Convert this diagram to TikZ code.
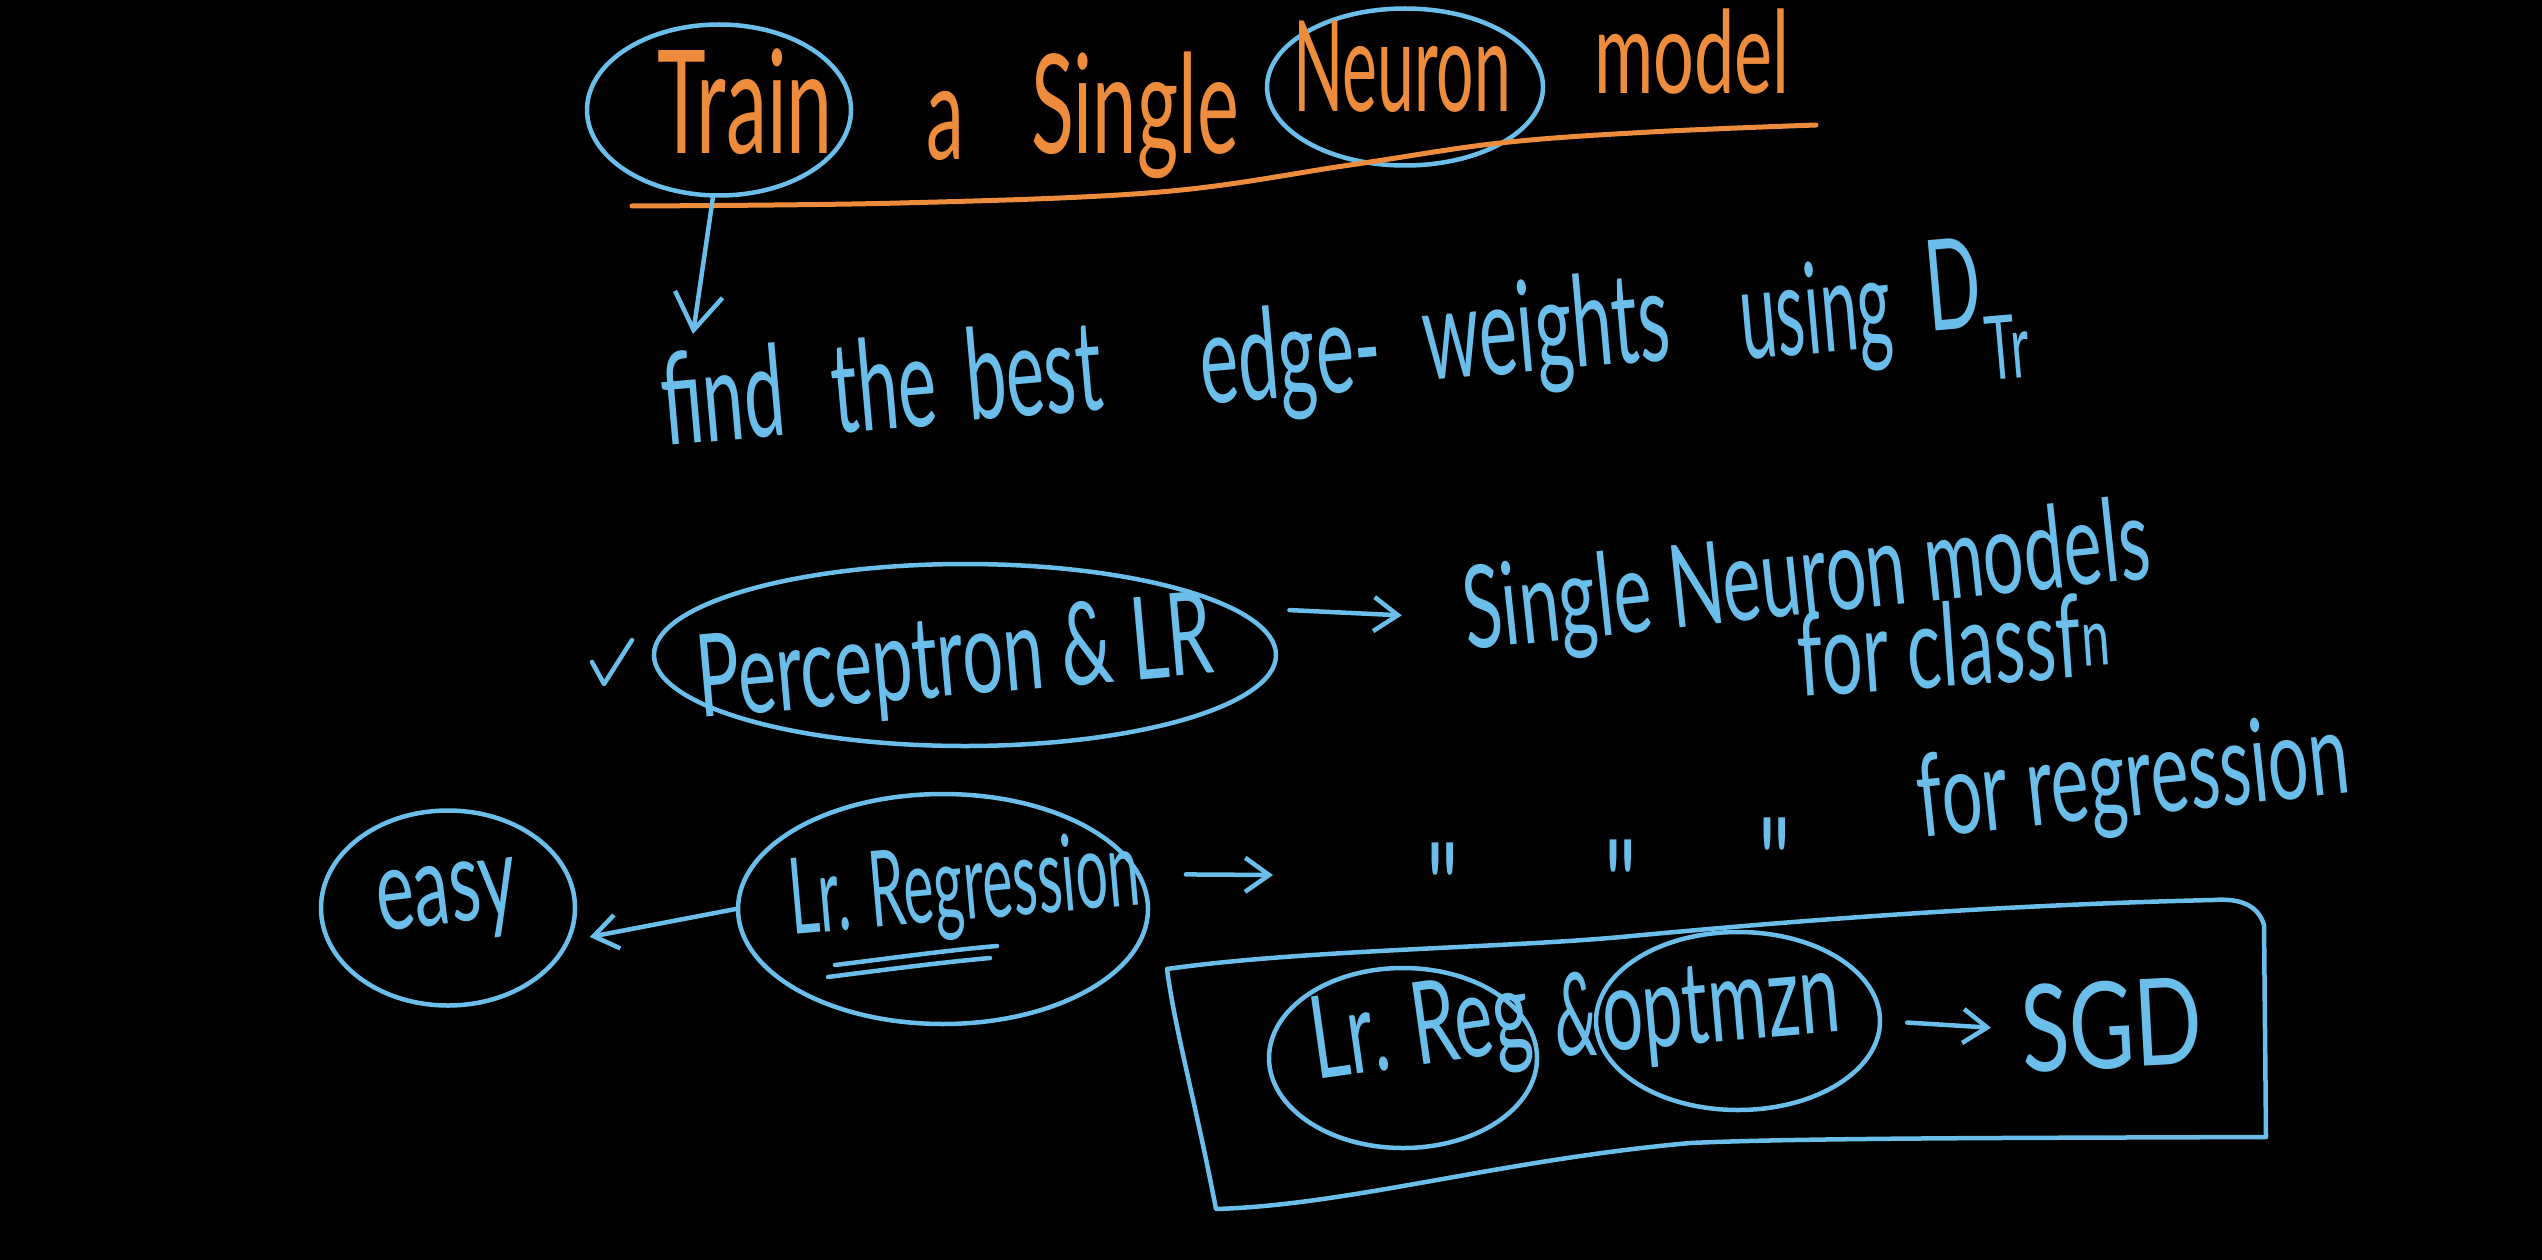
\documentclass[tikz,border=0pt]{standalone}
\usepackage{fontspec}
\setmainfont{Lato}
\newfontfamily\dittofont{Lato}
\usepackage{graphicx}
\usetikzlibrary{arrows.meta,shapes.geometric}
\definecolor{chalkblue}{RGB}{108,190,234}
\definecolor{chalkorange}{RGB}{236,140,60}
\newcommand{\hwys}{1.15}
\newcommand{\hw}[3][0.72]{\scalebox{#1}[\hwys]{\fontsize{#2}{#2}\selectfont #3}}
\tikzset{
  ink/.style={draw=chalkblue, line width=4.5pt, line cap=round, line join=round},
  oink/.style={draw=chalkorange, line width=5pt, line cap=round, line join=round},
  blob/.style={ellipse, draw=chalkblue, line width=4.5pt, inner sep=0pt},
  word/.style={text=chalkblue, inner sep=0pt},
  oword/.style={text=chalkorange, inner sep=0pt},
  arr/.style={ink, -{Straight Barb[length=24pt,width=34pt]}},
  bigarr/.style={ink, -{Straight Barb[length=36pt,width=48pt]}},
}
\begin{document}
\begin{tikzpicture}[x=1pt,y=-1pt]
\fill[black] (0,0) rectangle (2542,1260);
\useasboundingbox (0,0) rectangle (2542,1260);

% ---- title
\node[blob, minimum width=264pt, minimum height=171pt] (trainE) at (719,110) {};
\node[oword, anchor=base] (train) at (745,154) {\hw[0.66]{125}{Train}};
\node[oword, anchor=base] (ta) at (945,160) {\hw[0.66]{115}{a}};
\node[oword, anchor=base] (single) at (1135,154) {\hw[0.66]{120}{Single}};
\node[blob, minimum width=276pt, minimum height=157pt] (neuronE) at (1405,87) {};
\node[oword, anchor=base] (neuron) at (1402,112) {\hw[0.6]{110}{Neuron}};
\node[oword, anchor=base] (model) at (1692,94) {\hw[0.72]{100}{model}};
\draw[oink] plot[smooth, tension=0.6] coordinates {(632,206) (900,203) (1160,192) (1350,165) (1500,143) (1650,132) (1816,125)};

% ---- line 2
\coordinate (findtip) at (693,334);
\draw[bigarr] (trainE.-94) -- (findtip);
\node[word, anchor=base west, rotate=5] (find) at (665,446) {\hw[0.66]{110}{find}};
\node[word, anchor=base west, rotate=5] (the) at (835,434) {\hw[0.66]{110}{the}};
\node[word, anchor=base west, rotate=5] (best) at (969,421) {\hw[0.66]{110}{best}};
\node[word, anchor=base west, rotate=5] (edge) at (1203,405) {\hw[0.66]{110}{edge-}};
\node[word, anchor=base west, rotate=5] (weights) at (1426,381) {\hw[0.66]{110}{weights}};
\node[word, anchor=base west, rotate=5] (using) at (1743,360) {\hw[0.6]{110}{using}};
\node[word, anchor=base west, rotate=5] (dtr) at (1929,332) {\hw[0.66]{110}{D\textsubscript{Tr}}};

% ---- row 3
\draw[ink] (592,662) -- (604,684) -- (632,640);
\node[blob, minimum width=622pt, minimum height=182pt] (percE) at (965,655) {};
\node[word, anchor=base west, rotate=5] (perc) at (700,718) {\hw{100}{Perceptron \& LR}};
\node[word, anchor=base west, rotate=6] (snm) at (1467,650) {\hw{100}{Single Neuron models}};
\draw[arr, shorten <=55pt, shorten >=62pt] (percE.10) -- (snm.west);
\node[word, anchor=base west, rotate=4] (cls) at (1800,697) {\hw{100}{for classf\textsuperscript{n}}};

% ---- row 4
\node[blob, minimum width=254pt, minimum height=195pt] (easyE) at (448,908) {};
\node[word, anchor=base west, rotate=7] (easy) at (380,932) {\hw{100}{easy}};
\node[blob, minimum width=410pt, minimum height=230pt] (lrE) at (943,909) {};
\node[word, anchor=base west, rotate=5] (lr) at (792,935) {\hw[0.62]{92}{Lr. Regression}};
\draw[ink] (835,965) .. controls (900,957) and (950,950) .. (997,946);
\draw[ink] (828,977) .. controls (890,969) and (945,962) .. (990,958);
\draw[arr, shorten >=20pt] (lrE.west) -- (easyE.-15);
\coordinate (lrtip) at (1273,875);
\draw[arr, shorten <=45pt] (lrE.10) -- (lrtip);
\node[word, anchor=north] (d1) at (1443,843) {\hw[0.8]{110}{\dittofont"}};
\node[word, anchor=north] (d2) at (1621,840) {\hw[0.8]{110}{\dittofont"}};
\node[word, anchor=north] (d3) at (1775,818) {\hw[0.8]{110}{\dittofont"}};
\node[word, anchor=base west, rotate=6] (forreg) at (1921,838) {\hw{100}{for regression}};

% ---- box
\draw[ink] (1167,969) .. controls (1300,950) and (1500,948) .. (1621,937)
  .. controls (1800,920) and (2000,905) .. (2213,900)
  .. controls (2240,898) and (2258,905) .. (2264,925)
  -- (2266,1137)
  .. controls (2000,1138) and (1800,1138) .. (1690,1143)
  .. controls (1500,1160) and (1350,1205) .. (1216,1209)
  .. controls (1195,1100) and (1175,1030) .. (1167,969);
\node[blob, minimum width=268pt, minimum height=180pt] (lrregE) at (1403,1058) {};
\node[word, anchor=base west, rotate=8] (lrreg) at (1316,1080) {\hw{100}{Lr. Reg}};
\node[word, anchor=base] (amp) at (1577,1055) {\hw[0.6]{100}{\&}};
\node[blob, minimum width=284pt, minimum height=178pt] (optE) at (1738,1021) {};
\node[word, anchor=base west, rotate=5] (opt) at (1605,1052) {\hw{100}{optmzn}};
\node[word, anchor=base, rotate=3] (sgd) at (2114,1068) {\hw[0.85]{105}{SGD}};
\draw[arr, shorten <=25pt, shorten >=30pt] (optE.east) -- (sgd.west);
\end{tikzpicture}
\end{document}
